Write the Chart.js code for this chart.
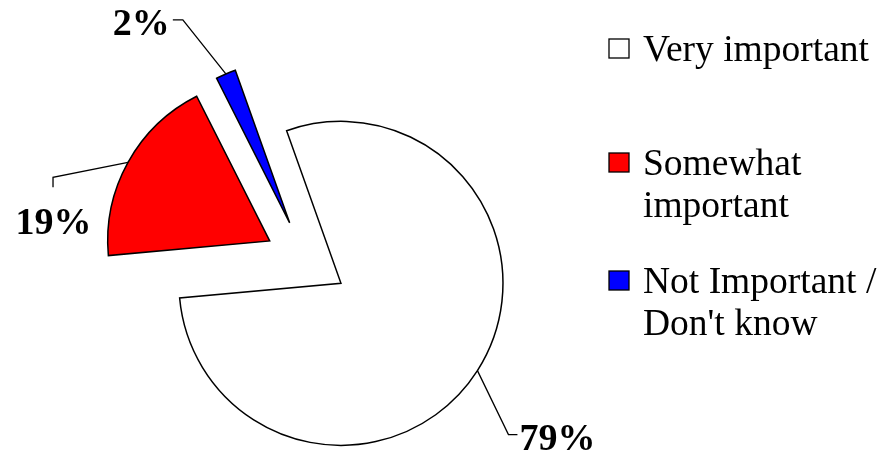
<!DOCTYPE html>
<html><head><meta charset="utf-8">
<script src="https://cdn.jsdelivr.net/npm/chart.js@4.4.1/dist/chart.umd.min.js"></script>
<style>html,body{margin:0;padding:0;background:#fff;}#wrap{width:892px;height:456px;position:relative;}</style>
</head><body><div id="wrap"><canvas id="c" width="892" height="456"></canvas></div>
<script>
// ---- data ----
const categories = ["Very important", "Somewhat important", "Not Important / Don't know"];
const legendLines = [["Very important"], ["Somewhat", "important"], ["Not Important /", "Don't know"]];
const values = [79, 19, 2];
const valueLabels = ["79%", "19%", "2%"];
const colors = ["#FFFFFF", "#FF0000", "#0000FF"];

// ---- layout (not data) ----
const PIE_RADIUS = 162;
const EXPLODE = 41.5;           // pixel distance each slice is pulled out
const SERIF = '"Liberation Serif", "Times New Roman", serif';
// leader line geometry relative to the arc's outer midpoint
const leaderLayout = [
  { elbow: [31, 64], end: [9, 0], text: [2, 15], align: 'left' },
  { elbow: [-75, 15], end: [0, 10], text: [0.5, 57], align: 'center' },
  { elbow: [-43, -54], end: [-10, 0], text: [-3, 15], align: 'right' }
];
const legendLayout = { boxX: 609, boxSize: 20, textX: 643, lineH: 42,
  firstBaselines: [61, 175, 293] };

// explode every slice along its bisector (keeps radius and angles exact)
const explode = {
  id: 'explode',
  beforeDatasetsDraw(chart) {
    const meta = chart.getDatasetMeta(0);
    const ca = chart.chartArea;
    const cx = (ca.left + ca.right) / 2 + (meta.controller.offsetX || 0);
    const cy = (ca.top + ca.bottom) / 2 + (meta.controller.offsetY || 0);
    meta.data.forEach(arc => {
      const mid = (arc.startAngle + arc.endAngle) / 2;
      arc.x = cx + Math.cos(mid) * EXPLODE;
      arc.y = cy + Math.sin(mid) * EXPLODE;
    });
  }
};

const labelsPlugin = {
  id: 'labelsPlugin',
  afterDatasetsDraw(chart) {
    const ctx = chart.ctx;
    const meta = chart.getDatasetMeta(0);
    ctx.save();
    meta.data.forEach((arc, i) => {
      const mid = (arc.startAngle + arc.endAngle) / 2;
      const R = arc.outerRadius;
      const ax = arc.x + Math.cos(mid) * R;
      const ay = arc.y + Math.sin(mid) * R;
      const L = leaderLayout[i];
      const ex = ax + L.elbow[0], ey = ay + L.elbow[1];
      const fx = ex + L.end[0], fy = ey + L.end[1];
      ctx.strokeStyle = '#000';
      ctx.lineWidth = 1.3;
      ctx.lineJoin = 'miter';
      ctx.beginPath();
      ctx.moveTo(ax, ay); ctx.lineTo(ex, ey); ctx.lineTo(fx, fy);
      ctx.stroke();
      ctx.fillStyle = '#000';
      ctx.font = 'bold 38px ' + SERIF;
      ctx.textAlign = L.align;
      ctx.textBaseline = 'alphabetic';
      const tx = (L.align === 'center' ? ex : fx) + L.text[0];
      const ty = (L.align === 'center' ? ey : fy) + L.text[1];
      ctx.fillText(valueLabels[i], tx, ty);
    });
    // legend
    ctx.font = '37.5px ' + SERIF;
    ctx.textAlign = 'left';
    ctx.textBaseline = 'alphabetic';
    legendLines.forEach((lines, i) => {
      const b = legendLayout.firstBaselines[i];
      const s = legendLayout.boxSize;
      ctx.fillStyle = colors[i];
      ctx.fillRect(legendLayout.boxX, b - 22, s, s - 1);
      ctx.strokeStyle = '#000';
      ctx.lineWidth = 1.3;
      ctx.strokeRect(legendLayout.boxX, b - 22, s, s - 1);
      ctx.fillStyle = '#000';
      lines.forEach((t, k) => ctx.fillText(t, legendLayout.textX, b + k * legendLayout.lineH));
    });
    ctx.restore();
  }
};

new Chart(document.getElementById('c'), {
  type: 'pie',
  data: {
    labels: categories,
    datasets: [{
      data: values,
      backgroundColor: colors,
      borderColor: '#000',
      borderWidth: 1.5,
      borderJoinStyle: 'miter',
      offset: 0,
      hoverOffset: 0
    }]
  },
  options: {
    responsive: false,
    animation: false,
    radius: PIE_RADIUS,
    rotation: -19.6,
    layout: { padding: { left: 0, right: 280, top: 66, bottom: 0 } },
    plugins: { legend: { display: false }, tooltip: { enabled: false } },
    events: []
  },
  plugins: [explode, labelsPlugin]
});
</script></body></html>
